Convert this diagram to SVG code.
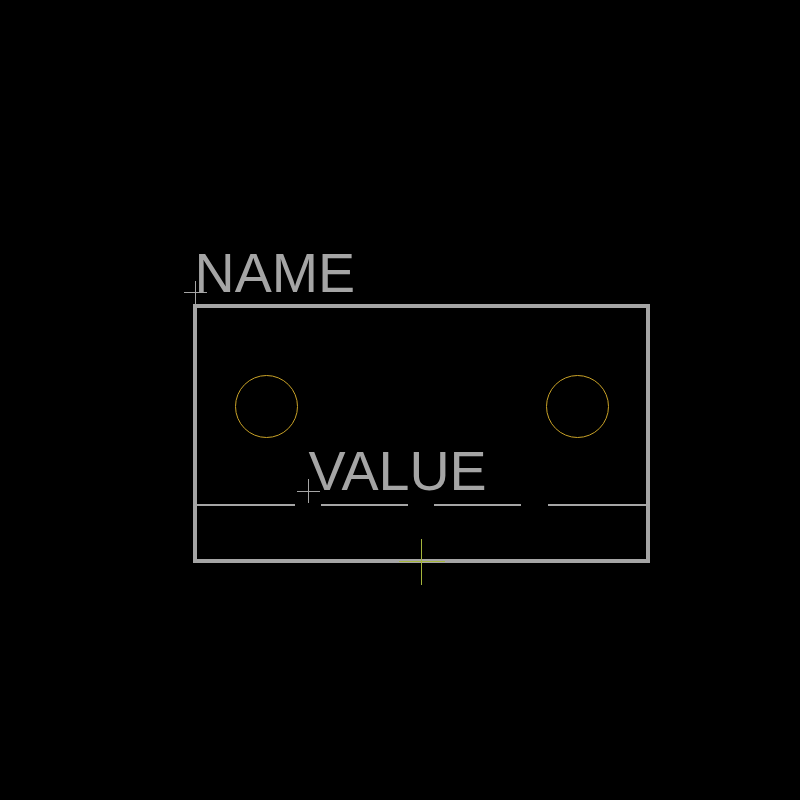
<svg xmlns="http://www.w3.org/2000/svg" width="800" height="800" viewBox="0 0 800 800">
<style>
.g{stroke:#a5a5a5;fill:none;shape-rendering:crispEdges}
.o{stroke-width:4}
.d{stroke-width:2}
.c{stroke-width:1}
.p{stroke:#c9a227;stroke-width:1;fill:none}
.a{stroke:#a5b53c;stroke-width:1;fill:none;shape-rendering:crispEdges}
text{fill:#a5a5a5;font-family:"Liberation Sans",Arial,sans-serif;font-size:55.6px}
</style>
<rect width="800" height="800" fill="#000"/>
<g id="outline"><rect class="g o" x="195" y="306" width="453" height="255"/></g>
<g id="connectors">
<path class="g d" d="M196 505H295M321 505H408M434 505H521M548 505H647"/>
</g>
<g id="hole-left"><circle class="p" cx="266.500" cy="406.500" r="31"/></g>
<g id="hole-right"><circle class="p" cx="577.500" cy="406.500" r="31"/></g>
<g id="name"><text x="194.500" y="292">NAME</text><path class="g c" d="M184 292.500H207M195.500 281V304"/></g>
<g id="value"><text x="308.500" y="490">VALUE</text><path class="g c" d="M297 491.500H320M308.500 479V503"/></g>
<g id="origin"><path class="a" d="M399 561.500H445M421.500 539V585"/></g>
</svg>
